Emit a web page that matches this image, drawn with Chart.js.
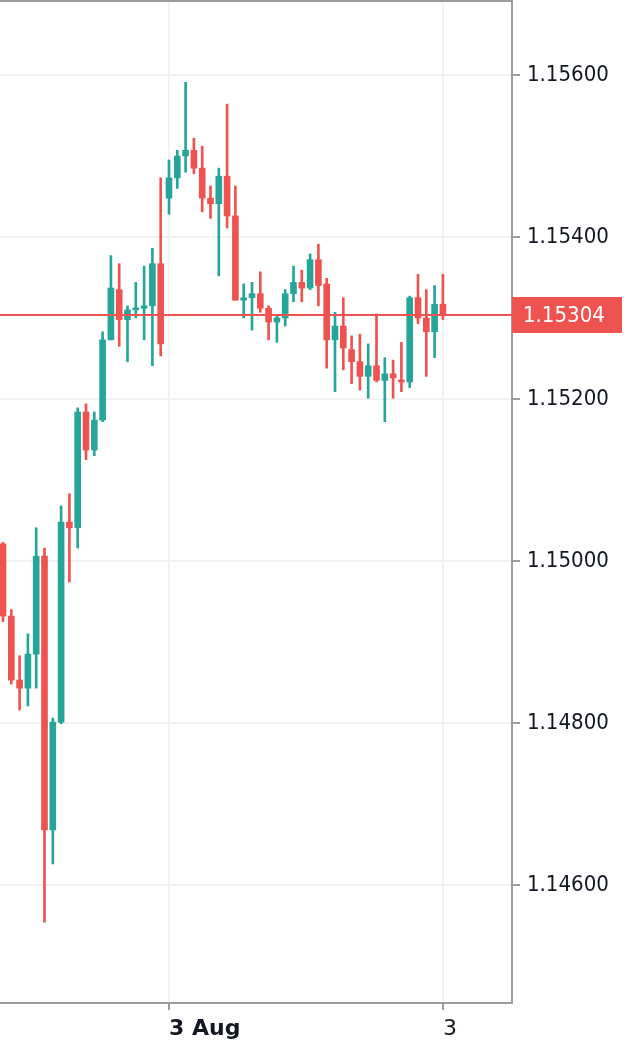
<!DOCTYPE html>
<html>
<head>
<meta charset="utf-8">
<script src="https://cdn.jsdelivr.net/npm/chart.js@4.4.0/dist/chart.umd.min.js"></script>
<style>
  html, body { margin: 0; padding: 0; background: #fff; }
  #wrap { width: 624px; height: 1050px; }
</style>
</head>
<body>
<div id="wrap"><canvas id="candles"></canvas></div>
<script>
// candle values (oldest first)
const opens = [1.15021, 1.14932, 1.14853, 1.14843, 1.14885, 1.15006, 1.14668, 1.14801, 1.15048, 1.15041,
  1.15184, 1.15137, 1.15174, 1.15273, 1.15335, 1.15298, 1.15310, 1.15312, 1.15315, 1.15367,
  1.15448, 1.15473, 1.15500, 1.15507, 1.15485, 1.15448, 1.15441, 1.15475, 1.15426, 1.15322,
  1.15325, 1.15330, 1.15312, 1.15295, 1.15300, 1.15330, 1.15344, 1.15337, 1.15372, 1.15342,
  1.15273, 1.15290, 1.15261, 1.15246, 1.15228, 1.15241, 1.15223, 1.15231, 1.15223, 1.15221,
  1.15325, 1.15300, 1.15283, 1.15317];
const highs = [1.15023, 1.14940, 1.14883, 1.14910, 1.15041, 1.15016, 1.14806, 1.15068, 1.15083, 1.15189,
  1.15194, 1.15184, 1.15283, 1.15377, 1.15367, 1.15315, 1.15344, 1.15364, 1.15386, 1.15473,
  1.15495, 1.15507, 1.15591, 1.15522, 1.15512, 1.15463, 1.15485, 1.15564, 1.15463, 1.15342,
  1.15344, 1.15357, 1.15315, 1.15302, 1.15335, 1.15364, 1.15359, 1.15379, 1.15391, 1.15349,
  1.15307, 1.15325, 1.15278, 1.15280, 1.15268, 1.15305, 1.15251, 1.15248, 1.15270, 1.15327,
  1.15354, 1.15335, 1.15340, 1.15354];
const lows = [1.14925, 1.14848, 1.14816, 1.14821, 1.14843, 1.14554, 1.14626, 1.14799, 1.14974, 1.15016,
  1.15125, 1.15130, 1.15172, 1.15273, 1.15265, 1.15246, 1.15300, 1.15273, 1.15241, 1.15253,
  1.15428, 1.15460, 1.15480, 1.15478, 1.15431, 1.15423, 1.15352, 1.15411, 1.15322, 1.15300,
  1.15285, 1.15307, 1.15273, 1.15270, 1.15290, 1.15320, 1.15320, 1.15335, 1.15315, 1.15238,
  1.15209, 1.15236, 1.15219, 1.15211, 1.15201, 1.15221, 1.15172, 1.15201, 1.15209, 1.15214,
  1.15293, 1.15228, 1.15251, 1.15298];
const closes = [1.14932, 1.14853, 1.14843, 1.14885, 1.15006, 1.14668, 1.14801, 1.15048, 1.15041, 1.15184,
  1.15137, 1.15174, 1.15273, 1.15337, 1.15298, 1.15310, 1.15312, 1.15315, 1.15367, 1.15268,
  1.15473, 1.15500, 1.15507, 1.15485, 1.15448, 1.15441, 1.15475, 1.15426, 1.15322, 1.15325,
  1.15330, 1.15312, 1.15295, 1.15300, 1.15330, 1.15344, 1.15337, 1.15372, 1.15340, 1.15273,
  1.15290, 1.15263, 1.15246, 1.15228, 1.15241, 1.15223, 1.15231, 1.15226, 1.15221, 1.15325,
  1.15300, 1.15283, 1.15317, 1.15304];

const xTickIndex = [20, 53];
const xTickLabels = ['3 Aug', '3'];
const yTicks = [1.146, 1.148, 1.150, 1.152, 1.154, 1.156];

const upColor = '#26a69a';
const downColor = '#ef5350';
const frameColor = '#9b9b9b';
const gridColor = '#f2f2f2';
const textColor = '#131722';
const fontFamily = "'DejaVu Sans Condensed', 'Open Sans', sans-serif";

const lastPrice = closes[closes.length - 1];
const candleColors = opens.map((o, i) => closes[i] >= o ? upColor : downColor);
const wickData = opens.map((o, i) => ({ x: i, y: [lows[i], highs[i]] }));
const bodyData = opens.map((o, i) => ({ x: i, y: [o, closes[i]] }));

const priceLine = {
  id: 'priceLine',
  afterDatasetsDraw(chart) {
    const { ctx, chartArea: a, scales: { y } } = chart;
    const py = Math.round(y.getPixelForValue(lastPrice));
    ctx.save();
    ctx.strokeStyle = downColor;
    ctx.lineWidth = 2;
    ctx.beginPath();
    ctx.moveTo(a.left, py);
    ctx.lineTo(a.right, py);
    ctx.stroke();
    ctx.restore();
  },
  afterDraw(chart) {
    const { ctx, chartArea: a, scales: { y } } = chart;
    const py = Math.round(y.getPixelForValue(lastPrice));
    ctx.save();
    // top edge of the frame
    ctx.strokeStyle = frameColor;
    ctx.lineWidth = 2;
    ctx.beginPath();
    ctx.moveTo(0, 1);
    ctx.lineTo(a.right + 1, 1);
    ctx.stroke();
    // last price tag
    ctx.fillStyle = downColor;
    ctx.fillRect(a.right, py - 18, 110, 36);
    ctx.fillStyle = '#ffffff';
    ctx.font = '22px ' + fontFamily;
    ctx.textAlign = 'left';
    ctx.textBaseline = 'middle';
    ctx.fillText(lastPrice.toFixed(5), a.right + 11, py + 1);
    ctx.restore();
  }
};

new Chart(document.getElementById('candles'), {
  type: 'bar',
  data: {
    datasets: [
      {
        label: 'wick',
        data: wickData,
        backgroundColor: candleColors,
        barThickness: 2,
        grouped: false,
        borderWidth: 0
      },
      {
        label: 'body',
        data: bodyData,
        backgroundColor: candleColors,
        barThickness: 6,
        minBarLength: 2,
        grouped: false,
        borderWidth: 0
      }
    ]
  },
  options: {
    responsive: true,
    maintainAspectRatio: false,
    devicePixelRatio: 1,
    animation: false,
    layout: { padding: { top: 2, left: 0, right: 0, bottom: 0 } },
    plugins: { legend: { display: false }, tooltip: { enabled: false } },
    scales: {
      x: {
        type: 'linear',
        offset: false,
        min: -0.3614,
        max: 61.325,
        afterBuildTicks: s => { s.ticks = xTickIndex.map(v => ({ value: v })); },
        afterFit: s => { s.height = 47; s.paddingLeft = 0; s.paddingRight = 0; },
        grid: { offset: false, color: gridColor, lineWidth: 2, tickColor: frameColor, tickLength: 7 },
        border: { color: frameColor, width: 2 },
        ticks: {
          autoSkip: false,
          maxRotation: 0,
          align: 'start',
          padding: 6,
          color: textColor,
          font: c => ({ family: "'DejaVu Sans', sans-serif", size: 22, weight: c.index === 0 ? 'bold' : 'normal' }),
          callback: (v, i) => xTickLabels[i]
        }
      },
      y: {
        position: 'right',
        min: 1.144543,
        max: 1.156901,
        afterBuildTicks: s => { s.ticks = yTicks.map(v => ({ value: v })); },
        afterFit: s => { s.width = 112; s.paddingTop = 0; s.paddingBottom = 0; },
        grid: { color: gridColor, lineWidth: 2, tickColor: frameColor, tickLength: 8 },
        border: { color: frameColor, width: 2 },
        ticks: {
          padding: 7,
          color: textColor,
          font: { family: fontFamily, size: 22 },
          callback: v => v.toFixed(5)
        }
      }
    }
  },
  plugins: [priceLine]
});
</script>
</body>
</html>
